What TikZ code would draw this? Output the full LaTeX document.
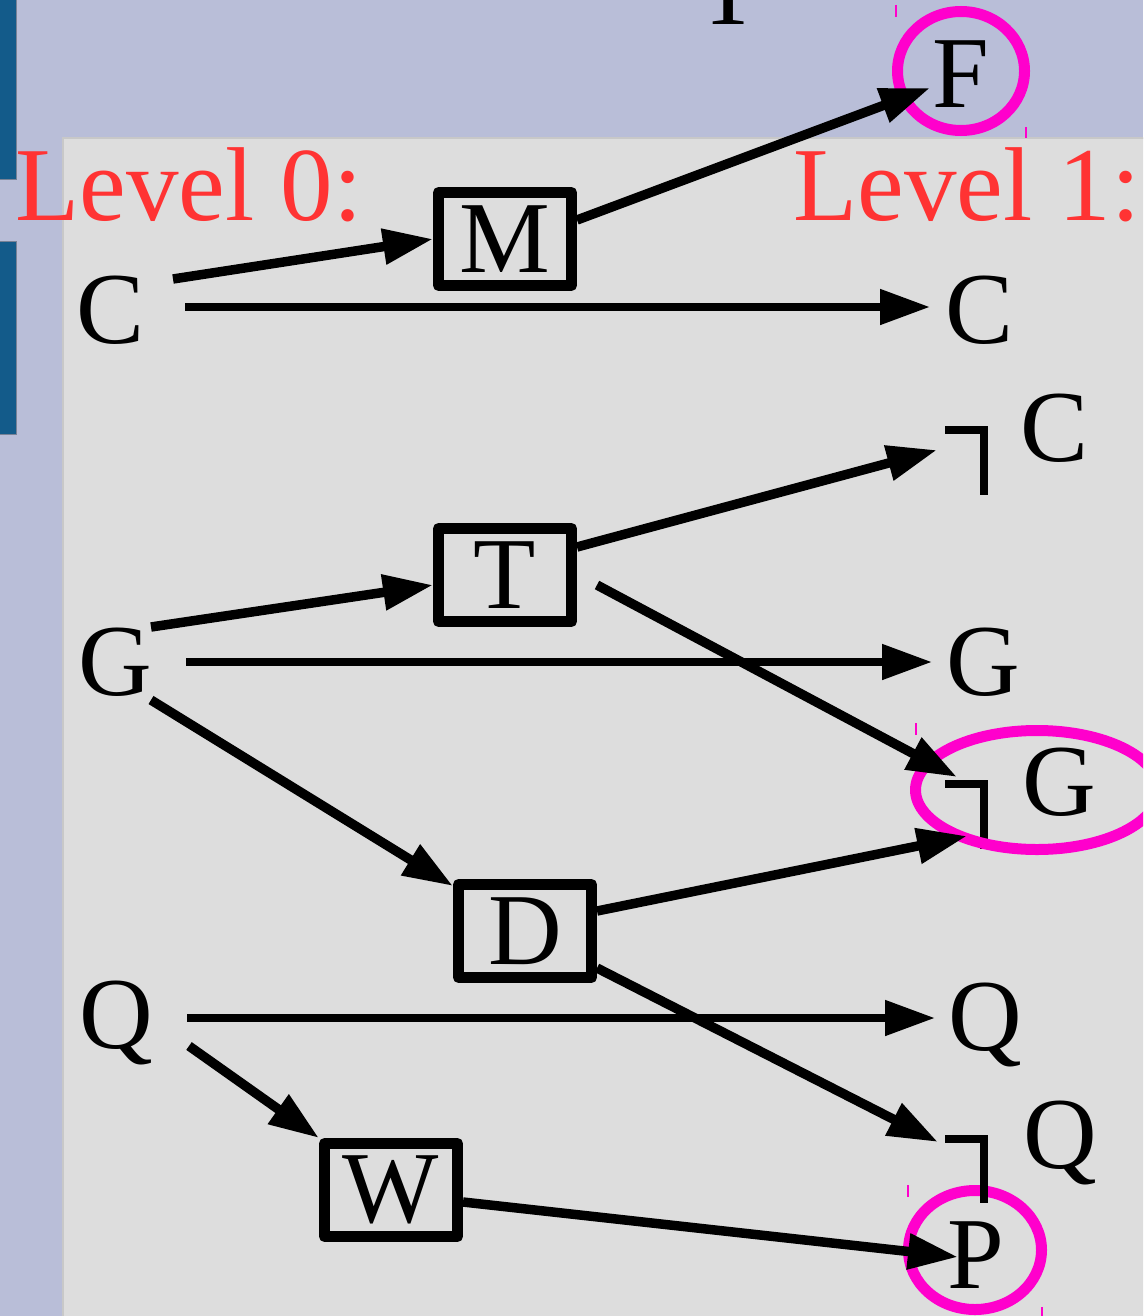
\documentclass[tikz,border=0pt]{standalone}
\usepackage{fontspec}
\setmainfont{Liberation Serif}
\usetikzlibrary{arrows.meta}

\definecolor{slideblue}{RGB}{185,190,216}
\definecolor{bardark}{RGB}{19,91,138}
\definecolor{panelgray}{RGB}{221,221,221}
\definecolor{lvlred}{RGB}{255,51,51}
\definecolor{goalpink}{RGB}{255,0,204}

\tikzset{every picture/.style={line width=0.75pt}}
\tikzset{
	lit/.style={inner sep=0pt, anchor=base, font=\fontsize{102}{120}\selectfont},
	lvl/.style={lit, anchor=base west, text=lvlred, font=\fontsize{105}{120}\selectfont},
	act/.style={draw, line width=11pt, line join=round, minimum width=133pt, minimum height=93pt, inner sep=0pt, font=\fontsize{102}{120}\selectfont},
	link/.style={line width=9.5pt, -{Triangle[length=50pt,width=34pt]}},
	keep/.style={link, line width=8pt},
	negmark/.style={line width=8pt, miter limit=4},
	goal/.style={draw=goalpink, line width=11pt},
	handle/.style={draw=goalpink, line width=1.5pt}
}

\begin{document}
\begin{tikzpicture}[x=1pt,y=1pt,yscale=-1,xscale=1]
	\useasboundingbox (0,0) rectangle (1143,1316);
	\clip (0,0) rectangle (1143,1316);

	%Background
	\fill[slideblue] (0,0) rectangle (1143,1316);
	\draw[draw={rgb,255:red,200;green,200;blue,200}, fill=panelgray, line width=2pt] (63,138) rectangle (1150,1320);
	\draw[fill=bardark, draw={rgb,255:red,120;green,130;blue,150}, line width=1pt] (-2,-2) rectangle (16,180);
	\draw[fill=bardark, draw={rgb,255:red,120;green,130;blue,150}, line width=1pt] (-2,241) rectangle (16,434);

	%Goal circles
	\draw[goal] (961,71) ellipse [x radius=63.5, y radius=59.5];
	\draw[goal] (975,1250) ellipse [x radius=66.5, y radius=59.5];
	%Handles
	\draw[handle] (896,5) -- (896,17);
	\draw[handle] (1026,127) -- (1026,138);
	\draw[handle] (916,723) -- (916,735);
	\draw[handle] (908,1185) -- (908,1197);
	\draw[handle] (1042,1307) -- (1042,1316);

	% Text Node
	\node[lit] (top) at (729,25) {T};
	% Text Node
	\node[lvl] (lvl0) at (15,220) {Level 0:};
	% Text Node
	\node[lvl] (lvl1) at (793,220) {Level 1:};
	% Text Node
	\node[lit] (c0) at (111,343) {C};
	\node[lit] (g0) at (115,695) {G};
	\node[lit] (q0) at (116,1048) {Q};
	% Text Node
	\node[lit] (f1) at (961,108) {F};
	\node[lit] (c1) at (980,343) {C};
	\node[lit] (nc1) at (1055,461) {C};
	\node[lit] (g1) at (983,695) {G};
	\node[lit] (ng1) at (1059,815) {G};
	\node[lit] (q1) at (985,1050) {Q};
	\node[lit] (nq1) at (1060,1168) {Q};
	\node[lit] (p1) at (976,1288) {P};

	%Negation marks
	\draw[negmark] ([shift={(-110,-31)}]nc1.base) -- ++(39,0) -- ++(0,65);
	\draw[negmark] ([shift={(-114,-31)}]ng1.base) -- ++(39,0) -- ++(0,65);
	\draw[negmark] ([shift={(-115,-29)}]nq1.base) -- ++(39,0) -- ++(0,64);
	\draw[goal] (1037,790) ellipse [x radius=121.5, y radius=59.5];

	%Actions
	\node[act] (m) at (505,239) {M};
	\node[act] (t) at (505,575) {T};
	\node[act] (d) at (525,931) {D};
	\node[act] (w) at (391,1190) {W};

	%Straight Lines
	\draw[link] ([shift={(62,-64)}]c0.base) -- (m.west);
	\draw[keep] ([shift={(74,-36)}]c0.base) -- ([shift={(-50,-36)}]c1.base);
	\draw[link] ([yshift=-19pt]m.east) -- ([shift={(-31,-20)}]f1.base);
	\draw[link] ([shift={(36,-68)}]g0.base) -- ([yshift=10pt]t.west);
	\draw[link] ([yshift=-28pt]t.east) -- ([shift={(-118,-11)}]nc1.base);
	\draw[link] ([shift={(20,10)}]t.east) -- ([shift={(-102,-38)}]ng1.base);
	\draw[keep] ([shift={(71,-33)}]g0.base) -- ([shift={(-51,-33)}]g1.base);
	\draw[link] ([shift={(36,5)}]g0.base) -- ([yshift=7pt]d.north west);
	\draw[link] ([yshift=-20pt]d.east) -- ([shift={(-92,21)}]ng1.base);
	\draw[link] ([yshift=37pt]d.east) -- ([shift={(-122,-26)}]nq1.base);
	\draw[keep] ([shift={(71,-30)}]q0.base) -- ([shift={(-50,-32)}]q1.base);
	\draw[link] ([shift={(73,-2)}]q0.base) -- (w.north west);
	\draw[link] ([yshift=12pt]w.east) -- ([shift={(-18,-31)}]p1.base);

\end{tikzpicture}
\end{document}
